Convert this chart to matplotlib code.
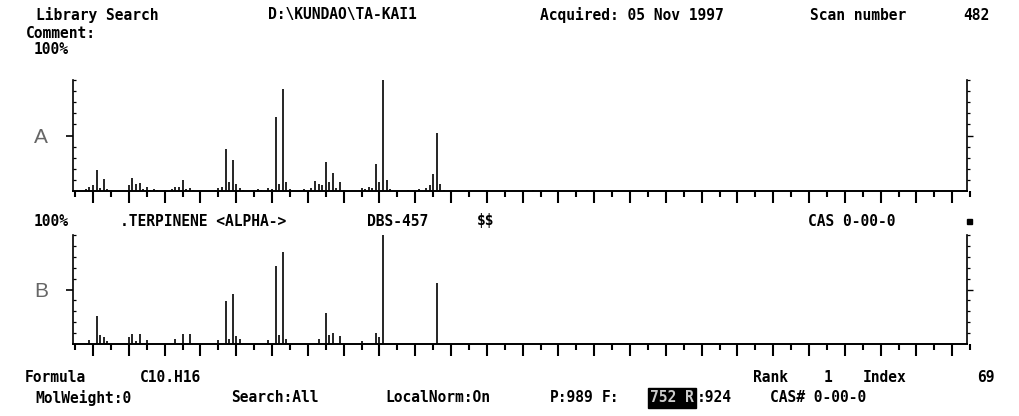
import numpy as np
import matplotlib
matplotlib.use("Agg")
import matplotlib.pyplot as plt
from matplotlib.ticker import FixedLocator
from matplotlib.patches import Rectangle

W, H = 1020, 416

## data
# A : sample scan 482, m/z and relative abundance (%)
mz_a = [38, 39, 40, 41, 42, 43, 44, 45,
        50, 51, 52, 53, 54, 55, 56, 57, 58, 60,
        62, 63, 64, 65, 66, 67, 68, 74, 75, 76, 77, 78, 79, 80, 81, 82,
        85, 86, 87, 89, 90, 91, 92, 93, 94, 95,
        99, 101, 102, 103, 104, 105, 106, 107, 108, 109, 110,
        115, 116, 117, 118, 119, 120, 121, 122, 123,
        128, 131, 133, 134, 135, 136, 137, 138,
        150, 155, 163, 178, 205]
int_a = [2, 4, 5, 19, 3, 11, 2, 1,
         5, 12, 6, 7, 2, 4, 1, 2, 1, 1,
         2, 4, 4, 10, 2, 3, 1, 1, 3, 4, 38, 8, 28, 6, 3, 1,
         1, 2, 1, 3, 2, 67, 6, 92, 8, 2,
         2, 3, 9, 6, 5, 26, 8, 16, 3, 8, 1,
         3, 2, 4, 3, 24, 8, 100, 10, 2,
         1, 2, 3, 5, 15, 52, 6, 1,
         1, 1, 1, 1, 1]

# B : library entry TERPINENE <ALPHA->
mz_b = [39, 41, 42, 43, 44, 50, 51, 52, 53, 55, 63, 65, 67,
        75, 77, 78, 79, 80, 81, 89, 91, 92, 93, 94,
        103, 105, 106, 107, 109, 115, 119, 120, 121, 136]
int_b = [4, 26, 8, 6, 3, 6, 9, 3, 9, 4, 5, 9, 9,
         4, 39, 5, 46, 7, 5, 4, 72, 8, 84, 5,
         5, 28, 8, 10, 7, 3, 10, 6, 100, 56]

mass_lo, mass_end, mass_hi = 34.4, 284.1, 287.5
ticks_major = np.arange(40, 290, 10)
ticks_minor = np.arange(35, 290, 10)
y_minor = [10, 20, 30, 40, 60, 70, 80, 90, 100]

fig = plt.figure(figsize=(W / 100, H / 100), dpi=100)
fig.patch.set_facecolor('white')

ax_w = (mass_hi - mass_lo) * 3.58 / W


def panel(top_px, base_px, mz, inten, letter):
    ax = fig.add_axes([73 / W, 1 - base_px / H, ax_w, (base_px - top_px) / H])
    ax.vlines(mz, 0, inten, color='black', lw=1.2, clip_on=False)
    ax.set_xlim(mass_lo, mass_hi)
    ax.set_ylim(0, 100)
    for s in ['top', 'right']:
        ax.spines[s].set_visible(False)
    ax.spines['left'].set_linewidth(1.2)
    ax.spines['bottom'].set_linewidth(1.4)
    ax.spines['bottom'].set_bounds(mass_lo, mass_end)
    # x ticks under the baseline
    ax.set_xticks(ticks_major)
    ax.set_xticklabels([])
    ax.xaxis.set_minor_locator(FixedLocator(ticks_minor))
    ax.tick_params(axis='x', which='major', direction='out', length=8.5, width=1.5)
    ax.tick_params(axis='x', which='minor', direction='out', length=4.3, width=1.5)
    # y ticks, letter at 50 %
    ax.set_yticks([50])
    ax.set_yticklabels([letter], color='#666666', fontsize=15,
                       family='Liberation Sans')
    ax.yaxis.set_minor_locator(FixedLocator(y_minor))
    ax.tick_params(axis='y', which='major', direction='out', length=5, width=1.2, pad=13)
    ax.tick_params(axis='y', which='minor', direction='in', length=2.5, width=0.9)
    # right frame line
    sec = ax.secondary_yaxis((mass_end - mass_lo) / (mass_hi - mass_lo))
    sec.spines['right'].set_linewidth(1.2)
    sec.set_yticks([50])
    sec.set_yticklabels([])
    sec.yaxis.set_minor_locator(FixedLocator(y_minor))
    sec.tick_params(axis='y', which='major', direction='out', length=4, width=1.0)
    sec.tick_params(axis='y', which='minor', direction='out', length=2.5, width=0.9)
    return ax


axA = panel(80, 191, mz_a, int_a, 'A')
axB = panel(235, 344, mz_b, int_b, 'B')


def put(x, y, s, ha='center', **kw):
    fig.text(x / W, 1 - y / H, s, fontsize=10.5, family='DejaVu Sans Mono',
             weight='bold', va='center', ha=ha, parse_math=False, **kw)


put(97, 15, "Library Search")
put(342, 15, "D:\\KUNDAO\\TA-KAI1")
put(632, 15, "Acquired: 05 Nov 1997")
put(858, 15, "Scan number")
put(976, 15, "482")
put(61, 33, "Comment:")
put(51, 49, "100%")

put(51, 221, "100%")
put(203, 221, ".TERPINENE <ALPHA->")
put(398, 221, "DBS-457")
put(486, 221, "$$")
put(852, 221, "CAS 0-00-0")
fig.patches.append(Rectangle((967 / W, 1 - 224 / H), 5 / W, 5 / H,
                             transform=fig.transFigure, color='black'))

put(55, 378, "Formula")
put(171, 378, "C10.H16")
put(771, 378, "Rank")
put(828, 378, "1")
put(885, 378, "Index")
put(986, 378, "69")
put(83, 398, "MolWeight:0")
put(275, 398, "Search:All")
put(438, 398, "LocalNorm:On")
put(550, 398, "P:989", ha='left')
put(602, 398, "F:", ha='left')
put(650, 398, "752 R", ha='left', color='#cccccc',
    bbox=dict(boxstyle='square,pad=0.15', fc='black', ec='black'))
put(697, 398, ":924", ha='left')
put(818, 398, "CAS# 0-00-0")

plt.savefig("out.png", dpi=100)
